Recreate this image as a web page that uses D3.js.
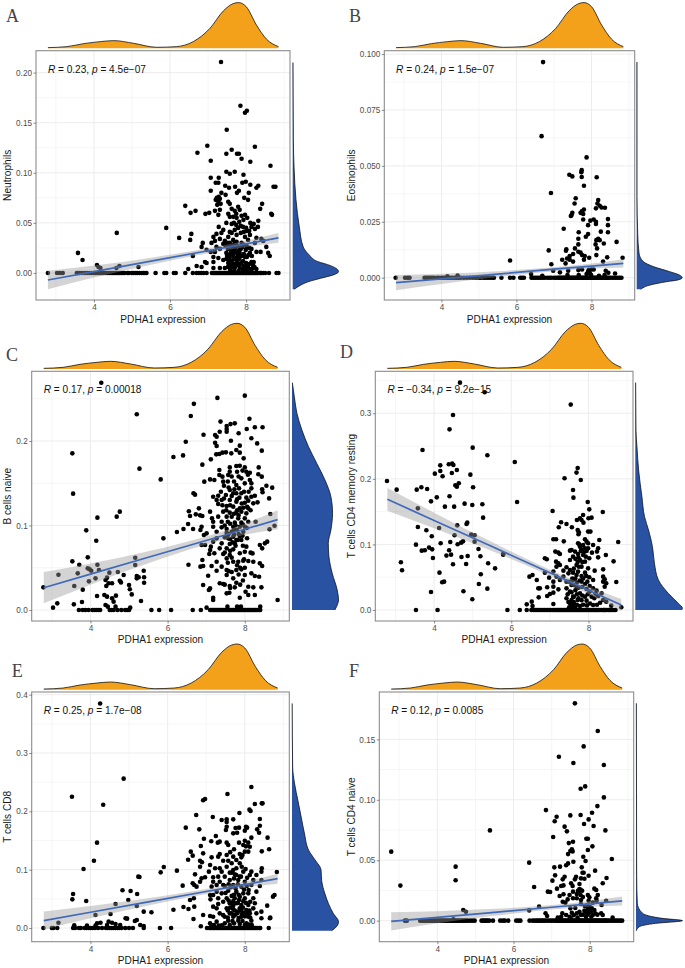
<!DOCTYPE html>
<html><head><meta charset="utf-8">
<script src="https://cdnjs.cloudflare.com/ajax/libs/d3/7.8.5/d3.min.js"></script>
<style>html,body{margin:0;padding:0;background:#fff}svg{display:block}text{font-family:"Liberation Sans",Arial,sans-serif}</style>
</head><body><svg id="c" width="685" height="968"></svg>
<script>
// shared expression values
const exprTicks=[4,6,8], exprMinor=[3,5,7,9];
const exprDensityX=[2.79,3.29,3.73,4.17,4.52,5.04,5.65,6.17,6.61,7.05,7.4,7.66,7.8,8,8.27,8.53,8.85];
const exprDensityV=[2,5,14,20,23,15,3,5,20,60,112,134,137,125,70,28,5];
const fitX=[2.79,4,5.5,7,8,8.85];
// zero-valued samples in the densely populated high-expression range
const highZero=[7.1,7.13,7.16,7.19,7.22,7.25,7.28,7.31,7.34,7.37,7.4,7.43,7.46,7.49,7.52,7.55,7.58,7.61,7.64,7.67,7.7,7.73,7.76,7.79,7.82,7.85,7.88,7.91,7.94,7.97,8,8.03,8.06,8.09,8.12,8.15,8.18,8.21,8.24,8.27,8.3,8.34,8.38,8.4];

// A Neutrophils
const neutroPts=[[7.34,.2106],[7.85,.167],[8.02,.162],[7.97,.16],[7.49,.143],[6.98,.127],[8.23,.126],[6.72,.12],[7.62,.123],[7.48,.119],[7.76,.119],[7.81,.119],[7.88,.114],[7.07,.112],[8.11,.111],[8.64,.107],[7.48,.101],[7.57,.099],[7.7,.101],[7.07,.095],[7.28,.095],[7.93,.098],[7.2,.09],[7.27,.09],[7.45,.087],[7.55,.085],[7.71,.086],[7.9,.09],[7.99,.091],[8.11,.088],[8.27,.085],[8.32,.087],[8.72,.086],[8.77,.086],[7.07,.082],[7.35,.08],[7.46,.078],[7.76,.08],[7.81,.082],[7.95,.075],[8.07,.08],[8.05,.073],[7.23,.075],[7.28,.076],[7.2,.073],[7.31,.074],[7.27,.071],[7.24,.068],[7.33,.069],[7.53,.071],[7.57,.069],[6.4,.067],[8.42,.069],[8.37,.064],[6.54,.06],[6.67,.062],[6.93,.059],[7.03,.06],[7.18,.062],[7.31,.063],[7.62,.064],[7.79,.066],[7.83,.063],[7.27,.058],[7.53,.059],[7.88,.057],[7.97,.058],[8.66,.059],[8.68,.058],[7.57,.056],[7.75,.055],[7.48,.05],[7.62,.049],[7.82,.051],[8.03,.055],[8.11,.05],[8.2,.049],[8.32,.052],[7.92,.046],[8,.045],[8.14,.046],[8.23,.044],[8.31,.046],[5.9,.045],[4.6,.04],[7.28,.046],[7.4,.043],[7.57,.041],[7.79,.045],[6.24,.035],[6.56,.039],[6.53,.033],[7.14,.036],[7.22,.039],[7.35,.04],[7.31,.034],[7.53,.036],[7.44,.032],[7.66,.033],[7.97,.036],[8.1,.038],[8.05,.033],[8.27,.035],[8.4,.034],[6.86,.03],[6.83,.026],[7.09,.03],[7.18,.032],[7.22,.026],[7.4,.029],[7.57,.03],[7.75,.031],[7.88,.03],[8.23,.03],[8.45,.032],[8.53,.026],[3.58,.02],[3.7,.013],[6.6,.017],[6.96,.023],[7.07,.021],[7.18,.021],[7.31,.024],[7.48,.02],[7.57,.016],[7.7,.021],[7.83,.02],[7.97,.016],[8.1,.02],[8.27,.021],[8.38,.021],[8.58,.02],[8.62,.017],[6.92,.011],[6.96,.01],[7.14,.011],[7.14,.016],[7.27,.015],[7.4,.013],[7.48,.014],[7.53,.01],[7.62,.012],[7.75,.013],[7.79,.008],[7.88,.01],[8,.01],[8.14,.011],[8.18,.008],[6.7,.007],[6.48,.004],[6.83,.006],[7.14,.005],[7.31,.005],[7.44,.005],[7.62,.006],[7.7,.005],[7.83,.005],[7.97,.004],[8.05,.006],[8.18,.005],[8.27,.004],[7.52,.024],[7.6,.022],[7.66,.018],[7.72,.026],[7.78,.017],[7.86,.024],[7.92,.012],[7.99,.023],[7.55,.012],[7.67,.014],[7.74,.01],[7.93,.007],[4.08,.008],[4.12,.006],[4.17,.005],[4.67,.007],[4.59,.005],[5.17,.006]];
const neutroCrowd=[[7.46,.027],[7.5,.03],[7.54,.026],[7.6,.028],[7.64,.025],[7.69,.029],[7.7,.024],[7.76,.027],[7.8,.022],[7.82,.026],[7.9,.026],[7.95,.028],[8.01,.027],[8.08,.025],[8.14,.024],[7.5,.017],[7.58,.019],[7.64,.021],[7.72,.015],[7.76,.02],[7.82,.014],[7.88,.017],[7.94,.019],[8.02,.016],[8.06,.018],[8.15,.017],[7.52,.006],[7.58,.008],[7.66,.009],[7.72,.007],[7.77,.012],[7.84,.009],[7.9,.004],[8.02,.007],[8.08,.009],[8.1,.004],[8.2,.011],[8.22,.006],[7.58,.003],[7.68,.002],[7.8,.002],[7.92,.002],[8.02,.002],[8.14,.002],[7.62,.04],[7.7,.043],[7.75,.038],[7.86,.04],[7.94,.041],[8.02,.042],[8.08,.042],[7.68,.05],[7.74,.048],[7.86,.047],[7.93,.053],[7.7,.062],[7.74,.059],[7.66,.056]];
const neutroZero=[2.79,3.03,3.1,3.18,3.55,3.58,3.62,3.68,3.75,3.82,3.88,3.94,4,4.04,4.08,4.12,4.16,4.2,4.25,4.3,4.35,4.4,4.44,4.48,4.52,4.56,4.6,4.64,4.68,4.72,4.76,4.8,4.88,4.92,5,5.04,5.1,5.14,5.2,5.26,5.3,5.34,5.38,5.62,5.85,5.9,6.1,6.15,6.4,6.6,6.7,6.76,6.82,6.88,6.96,8.45,8.5,8.6,8.8,8.85];
const neutroFit=[-.007,.0014,.0118,.0222,.0291,.035], neutroHalf=[.0093,.006,.0035,.0024,.0031,.0048];
const neutroDensV=[.21,.133,.106,.073,.046,.026,.018,.0115,.0073,.0037,.0013,-.0017,-.0053,-.009,-.012,-.0163];
const neutroDensW=[1,2,4,10,20,32,50,75,115,135,139,125,85,45,25,5];

// B Eosinophils
const eosinoPts=[[6.71,.0964],[6.67,.0633],[7.87,.0538],[8.14,.0449],[7.74,.0481],[7.73,.0472],[7.74,.045],[7.41,.046],[7.49,.0453],[7.8,.0411],[6.92,.0379],[7.58,.0355],[7.55,.0332],[8.18,.0347],[8.16,.0332],[8.12,.031],[8.22,.0322],[8.27,.0314],[8.36,.0313],[7.8,.0305],[7.75,.0298],[7.71,.029],[7.78,.0285],[7.49,.029],[7.47,.028],[7.45,.0276],[8.44,.0262],[8.44,.0235],[8.44,.0203],[8.25,.0206],[7.78,.026],[7.97,.0255],[8.06,.026],[8.12,.025],[8.12,.024],[7.91,.0235],[7.26,.0219],[7.66,.0203],[7.91,.0195],[7.85,.0183],[8.18,.0174],[8.13,.0168],[8.22,.0168],[7.65,.0174],[8.67,.016],[8.33,.0153],[8.11,.0149],[8.15,.0131],[7.65,.0149],[7.56,.0131],[7.33,.0127],[7.32,.0121],[6.86,.0122],[7.65,.0116],[7.71,.0112],[7.51,.0106],[7.75,.0101],[7.82,.0097],[8.13,.0101],[7.42,.0097],[7.35,.0086],[7.22,.008],[7.94,.0089],[7.8,.008],[8.42,.0091],[5.83,.0077],[8.83,.0089],[7.42,.008],[7.31,.0064],[6.93,.006],[8.31,.0072],[7.51,.0072],[6.98,.0031],[7.65,.0034],[7.75,.0037],[8,.0037],[8.06,.0037],[7.91,.0027],[8.38,.0031],[8.45,.0022],[7.16,.0024],[7.38,.0031],[8.63,.0019],[7.87,.0016],[7.96,.002],[6.69,.0009],[6.39,.0016],[4.43,.001],[4.16,.0006],[7.99,.0012],[7.93,.0035],[7.36,.0012],[7.66,.0012],[8.2,.0009],[8.35,.0012]];
const eosinoZero=[2.78,3.03,3.1,3.15,3.55,3.6,3.65,3.7,3.75,3.8,3.88,3.93,4,4.05,4.1,4.16,4.22,4.28,4.34,4.4,4.46,4.52,4.6,4.68,4.76,4.84,4.92,5,5.05,5.12,5.18,5.24,5.3,5.36,5.4,5.6,5.83,5.92,6.1,6.15,6.2,6.4,6.45,6.5,6.55,6.6,6.65,6.7,6.75,6.82,6.88,6.93,7,7.05,8.42,8.46,8.5,8.55,8.6,8.65,8.7,8.75,8.8];
const eosinoFit=[-.0022,-.0005,.0016,.0038,.0052,.0064], eosinoHalf=[.0034,.0023,.0013,.0009,.0011,.0018];
const eosinoDensV=[.0964,.0362,.0198,.011,.0072,.005,.0027,.0013,0,-.001,-.0018,-.0033,-.0052];
const eosinoDensW=[1,1,3,7,20,50,100,128,138,125,90,40,12];

// C B cells naive
const bcellPts=[[4.28,.269],[7.29,.251],[8,.2537],[6.68,.244],[5.2,.2316],[6.6,.2296],[7.37,.223],[8.12,.2264],[7.53,.2177],[7.63,.22],[7.74,.2209],[7.53,.2142],[7.53,.211],[8.05,.2142],[8.26,.2162],[8.46,.2162],[7.35,.211],[7.23,.2071],[7.27,.2051],[6.93,.2075],[7.84,.2091],[8.17,.2032],[6.47,.1992],[7.64,.2004],[8.32,.1972],[7.23,.198],[7.27,.1941],[7.87,.1945],[7.78,.1893],[8.44,.1886],[3.53,.1854],[7.26,.1842],[7.34,.1846],[7.42,.1862],[7.51,.1866],[7.65,.1854],[7.87,.1862],[6.15,.1811],[6.4,.183],[7.12,.1783],[7.97,.1795],[6.9,.172],[5.27,.1673],[7.34,.1657],[7.61,.1688],[7.78,.1704],[7.87,.1708],[8,.1688],[8.36,.1688],[7.61,.1637],[8.13,.1625],[8.35,.1606],[8.44,.1578],[7.8,.1637],[8.04,.1637],[7.34,.1598],[7.42,.1578],[7.57,.1598],[5.82,.1546],[7.1,.1546],[7.21,.1538],[6.95,.1519],[7.44,.1519],[7.91,.1558],[8.13,.1538],[8.17,.1499],[8.56,.1471],[8.71,.1448],[7.78,.1479],[8,.1499],[8.45,.1428],[8.46,.1393],[8.17,.144],[7.85,.144],[7.61,.142],[6.67,.1381],[6.71,.1365],[3.55,.1377],[7.18,.1341],[7.31,.1353],[7.51,.1361],[7.7,.1381],[7.78,.1381],[7.91,.1381],[8.26,.1353],[8.63,.1321],[8.17,.1341],[7.27,.1302],[7.4,.1302],[7.61,.1302],[7.78,.1282],[8.09,.1294],[8.33,.1274],[8.22,.1262],[7.31,.1254],[7.53,.1231],[7.7,.1223],[7.87,.1203],[7.96,.1211],[8.09,.1203],[6.81,.1203],[4.76,.1164],[4.68,.1105],[4.18,.1093],[6.55,.1168],[6.58,.1112],[6.73,.1132],[6.84,.112],[6.9,.1112],[7.1,.1164],[7.44,.1164],[7.61,.1152],[7.78,.1152],[7.91,.1164],[8.04,.1144],[8.66,.1136],[7.15,.1085],[7.31,.1105],[7.53,.1105],[7.66,.1105],[7.83,.1085],[8,.1085],[8.09,.1045],[8.28,.1045],[7.18,.1045],[7.4,.1045],[7.56,.1045],[7.74,.1034],[7.91,.1034],[6.53,.1018],[6.88,.0986],[6.66,.0959],[6.41,.0959],[6.24,.0923],[3.89,.0943],[6.85,.0947],[7.18,.0986],[7.4,.0978],[7.53,.0959],[7.7,.0986],[7.87,.0986],[8,.0986],[8.77,.0998],[8.64,.0955],[7.27,.0927],[7.53,.0915],[7.66,.0927],[7.8,.0947],[7.96,.0927],[7.01,.0907],[6.94,.0888],[5.89,.0848],[4.15,.082],[7.53,.0876],[7.7,.0868],[7.87,.0876],[7.27,.0848],[7.57,.0848],[7.78,.0828],[7.91,.0828],[7.18,.0809],[6.88,.0769],[6.97,.0769],[7.12,.075],[7.4,.0789],[7.61,.0781],[7.74,.0789],[8.58,.0809],[8.52,.0789],[8.39,.0769],[8.45,.073],[7.35,.073],[7.53,.073],[8.04,.075],[7.7,.0718],[7.1,.071],[8,.069],[7.87,.0671],[8.15,.0679],[7.08,.0663],[7.21,.0671],[7.44,.0663],[7.61,.0651],[5.16,.0619],[3.93,.0623],[3.53,.0576],[3.71,.0536],[4.18,.0536],[5.16,.0533],[6.54,.0536],[6.9,.0592],[6.92,.0521],[6.85,.0513],[7.14,.0521],[7.27,.0572],[7.53,.0611],[7.7,.0572],[7.83,.0572],[7.96,.0584],[8.09,.058],[8.22,.0572],[8.39,.0552],[8.45,.0521],[7.4,.0513],[7.27,.0465],[7.53,.0473],[7.78,.0473],[7.91,.0481],[3.93,.0493],[3.98,.0481],[4.02,.0465],[4.22,.0473],[3.67,.0434],[3.17,.0418],[4.49,.0442],[4.71,.045],[5.38,.0465],[7.05,.0406],[7.53,.0414],[7.7,.0375],[8.17,.0434],[8.26,.0402],[8.37,.0394],[8,.0414],[5.39,.0387],[5.2,.0402],[5.2,.0375],[5.25,.0387],[5.39,.0323],[4.86,.0414],[3.96,.0339],[4.13,.0375],[4.39,.0355],[4.76,.0347],[4.79,.0327],[4.43,.0383],[7.35,.0316],[6.92,.0296],[4.56,.0316],[4.47,.0316],[4.41,.0284],[5,.0296],[5.02,.0245],[5.07,.0185],[3.58,.0284],[3.8,.0241],[7.44,.0308],[7.61,.0284],[7.78,.0323],[8.09,.0276],[8.22,.0268],[8.43,.0268],[7.1,.0256],[7.07,.0237],[7.74,.0268],[7.53,.0197],[7.6,.0205],[8.02,.0217],[8.26,.0178],[7.18,.0146],[7.18,.0118],[7.87,.0146],[8.09,.0178],[4.17,.0166],[4.36,.0178],[4.43,.0158],[4.66,.017],[4.56,.0138],[4.6,.0099],[3.78,.0095],[5.31,.0107],[3.57,.0067],[3.14,.0079],[3.03,.0028],[2.78,.0268],[4.39,.0059],[4.45,.004],[4.65,.004],[5.03,.0028],[7.01,.0028],[8.85,.0118],[7.55,.004],[7.8,.004],[7.9,.004],[8.4,.004]];
const bcellCrowd=[[7.46,.147],[7.56,.152],[7.66,.158],[7.72,.152],[7.84,.158],[7.94,.165],[8.08,.16],[7.38,.14],[7.46,.132],[7.58,.145],[7.66,.135],[7.73,.143],[7.8,.131],[7.86,.133],[7.98,.14],[8.04,.133],[8.1,.14],[7.42,.124],[7.52,.118],[7.62,.124],[7.72,.114],[7.8,.118],[7.92,.126],[8,.127],[8.06,.122],[8.15,.118],[7.48,.1],[7.62,.102],[7.72,.095],[7.76,.1],[7.84,.112],[7.95,.101],[8.05,.097],[7.48,.086],[7.58,.09],[7.62,.084],[7.68,.08],[7.72,.089],[7.82,.083],[7.84,.09],[7.94,.088],[8.06,.085],[7.62,.07],[7.76,.076],[7.95,.076],[7.98,.06],[8.2,.067],[7.48,.068],[7.56,.056],[7.66,.062],[7.8,.053],[7.88,.05],[8,.05],[7.58,.046],[7.66,.045],[7.84,.042],[7.95,.035],[7.48,.03],[7.62,.026],[7.88,.03]];
const bcellZero=[3.7,3.8,3.87,3.95,4.05,4.1,4.15,4.2,4.25,4.5,4.55,4.6,4.7,4.8,4.9,4.95,5,5.58,5.78,6.09,6.65,6.86];
const bcellFit=[.0264,.0425,.0624,.0823,.0956,.1069], bcellHalf=[.0185,.0125,.0072,.0048,.0066,.0112];
const bcellDensV=[.269,.2525,.2327,.2130,.1933,.1736,.1538,.1341,.1144,.0947,.0789,.0631,.0434,.0237,.0118,.0039,0];
const bcellDensW=[1,7,15,30,50,75,100,118,123,118,110,112,122,137,141,135,130];

// D T cells CD4 memory resting
const cd4mPts=[[4.67,.3467],[5.31,.332],[7.54,.3132],[4.49,.2974],[4.4,.2755],[5,.2476],[3.7,.244],[5.38,.2359],[6.09,.2257],[4.16,.2206],[4.38,.2222],[4.47,.2232],[4.5,.2211],[4.59,.2135],[7.72,.2166],[4.16,.212],[7.69,.2095],[4.02,.2079],[4.46,.209],[4.22,.2039],[4.94,.2064],[7.38,.2008],[7.8,.1983],[2.78,.1967],[4.64,.1932],[4.55,.1901],[4.59,.1881],[5.01,.1871],[3.67,.1871],[3.55,.1835],[3.82,.1845],[3.03,.1835],[7.6,.183],[4.4,.1734],[4.07,.1718],[7.61,.1713],[3.92,.1657],[6.15,.1647],[7.98,.1647],[4.79,.1622],[4.99,.1601],[5.25,.1612],[4.28,.1576],[4.52,.1576],[3.58,.155],[8.02,.1535],[7.07,.151],[8.37,.1495],[7.86,.1449],[5.27,.1408],[7.78,.1398],[8,.1398],[8.08,.1408],[7.7,.1373],[7.82,.1373],[7.87,.1332],[7.29,.1337],[7.43,.1312],[4.6,.1291],[4.84,.1312],[4.86,.1332],[7.23,.1261],[7.57,.1261],[3.58,.1266],[4.13,.1251],[3.8,.1215],[7.72,.122],[7.75,.1185],[7.99,.1195],[8.05,.1195],[7.74,.1154],[3.94,.1124],[4.53,.1139],[4.96,.1149],[5.05,.1139],[7.09,.1078],[7.16,.1078],[7.36,.1047],[8.28,.1068],[8.77,.1037],[5.05,.1042],[4.42,.1037],[4.17,.1017],[3.53,.0996],[4.61,.1002],[4.7,.1027],[4.75,.1047],[7.91,.1078],[7.95,.1042],[7.73,.1017],[7.86,.0991],[7.99,.1017],[8.12,.0991],[7.52,.0905],[7.78,.0966],[7.82,.0925],[7.91,.094],[7.99,.094],[8.25,.094],[8.22,.089],[8.09,.0874],[3.87,.0951],[3.95,.0925],[3.68,.0905],[3.76,.091],[5.15,.093],[4.39,.091],[3.97,.0793],[4.32,.0829],[4.44,.0844],[4.71,.0808],[4.87,.0824],[5.2,.0819],[5.79,.0854],[5.79,.0844],[7.14,.089],[7.22,.0874],[7.26,.0854],[7.56,.0915],[7.65,.089],[7.73,.0854],[7.86,.0839],[8.02,.0788],[8.45,.0839],[8.25,.0803],[7.6,.0813],[7.93,.0813],[6.87,.0788],[6.92,.0773],[8.65,.0742],[3.14,.0727],[3.17,.0605],[4.49,.0697],[4.83,.0702],[5.4,.0712],[5.58,.0635],[4.14,.0569],[4.21,.0422],[4.26,.0432],[3.92,.0275],[4.76,.0285],[5.21,.0544],[5.16,.0397],[5.38,.0325],[4.99,.0163],[7.16,.0737],[7.22,.0712],[7.52,.0763],[7.78,.0763],[7.91,.0737],[7.17,.0661],[7.26,.0686],[7.43,.0651],[7.69,.0686],[7.82,.0661],[7.99,.0635],[8.16,.06],[8.38,.062],[7.35,.06],[7.52,.061],[7.6,.0569],[7.73,.0585],[7.91,.0569],[7.09,.0585],[6.87,.0569],[6.55,.0534],[6.47,.0508],[6.66,.0457],[6.98,.0493],[7.17,.0508],[7.35,.0508],[7.48,.0559],[7.69,.0534],[7.82,.0519],[7.97,.0432],[8.12,.0457],[8.38,.0508],[8.42,.0468],[8.72,.0427],[8.46,.0407],[8.38,.0432],[8.42,.0356],[7.09,.0432],[6.93,.0346],[6.74,.033],[6.7,.033],[7.22,.0315],[7.26,.0457],[7.43,.0432],[7.6,.0457],[7.82,.0432],[7.91,.0397],[7.43,.033],[7.56,.0381],[7.69,.0356],[8.03,.0366],[8.21,.0295],[7.09,.0356],[7.09,.0264],[7,.0244],[6.93,.0214],[6.71,.0193],[6.53,.0127],[7.52,.028],[7.78,.0254],[8.03,.028],[8.34,.0254],[7.6,.0203],[7.91,.0203],[8.08,.0203],[8.25,.0214],[8.38,.0153],[7.43,.0178],[7.72,.0153],[7.95,.0142],[8.46,.0127],[7.09,.0092],[6.4,.0086],[6.55,.0061],[7.52,.0102],[7.6,.0076],[7.56,.0051],[8.12,.0076],[8.59,.0066],[8.85,.0041]];
const cd4mCrowd=[[7.76,.1],[7.8,.09],[7.88,.088],[7.95,.09],[7.74,.08],[7.84,.073],[7.72,.073],[7.66,.078],[7.75,.066],[7.62,.063],[7.58,.048],[7.66,.048],[7.7,.042],[7.78,.045],[7.86,.048],[7.94,.052],[8.02,.05],[7.62,.038],[7.66,.03],[7.74,.034],[7.84,.035],[7.95,.032],[8.12,.033],[7.5,.043],[7.46,.024],[7.56,.027],[7.62,.02],[7.7,.024],[7.74,.018],[7.82,.015],[7.84,.022],[7.98,.024],[8.15,.018],[8.18,.025],[7.48,.012],[7.56,.015],[7.62,.012],[7.66,.007],[7.7,.008],[7.78,.006],[7.86,.008],[7.96,.007],[8.04,.01],[8.22,.008],[8.3,.011],[7.5,.004],[7.56,.012],[7.6,.003],[7.66,.003]];
const cd4mZero=[3.53,4.09,5.9,6.22,6.4,6.52,6.58,6.62,6.66,6.7,6.74,6.78,6.82,6.86,6.9,6.94,6.98,7.02,7.06,8.42,8.45,8.48,8.52,8.55,8.58,8.62,8.66,8.7];
const cd4mFit=[.1688,.1366,.0967,.0568,.0302,.0076], cd4mHalf=[.0173,.0118,.0068,.0045,.0058,.009];
const cd4mDensV=[.3467,.2745,.2491,.2135,.1729,.1423,.122,.0966,.0712,.0458,.0254,.0102,.0025,0];
const cd4mDensW=[1,2,5,10,20,28,40,52,58,70,100,130,143,140];

// E T cells CD8
const cd8Pts=[[4.25,.385],[4.86,.256],[8.17,.2417],[3.52,.2251],[7.55,.2297],[6.97,.2211],[6.92,.2189],[4.33,.2114],[8.26,.2126],[8.44,.2137],[8.46,.2137],[8.12,.2029],[8.15,.2006],[7.86,.1971],[6.74,.1937],[7.17,.1903],[8.39,.1869],[7.4,.1851],[7.53,.1863],[7.53,.1817],[7.7,.1863],[6.47,.172],[6.82,.1691],[7.53,.1737],[7.76,.1714],[7.85,.172],[8.03,.1737],[8.06,.172],[8.39,.1754],[8.32,.1691],[8.37,.1634],[7.51,.168],[7.7,.1623],[7.8,.1634],[8,.1669],[6.94,.1531],[7.25,.1577],[8.59,.1549],[8.17,.1549],[8,.1497],[4.17,.1463],[7.13,.1486],[7.3,.1463],[7.35,.148],[7.53,.1463],[7.57,.1423],[7.85,.1463],[8.09,.1463],[8.13,.1394],[6.86,.1406],[7.96,.1423],[8.63,.1349],[8.44,.1314],[6.6,.1309],[7.35,.1269],[6.92,.128],[6.65,.124],[6.53,.1171],[4.09,.1154],[6.84,.1154],[6.89,.1126],[7.14,.1211],[7.31,.1223],[7.53,.1251],[7.7,.1223],[7.87,.1269],[8,.1309],[8.09,.1309],[7.78,.1166],[7.91,.1211],[7.44,.1154],[7.57,.1154],[7.66,.1109],[7.87,.1109],[6.84,.1051],[7.1,.108],[7.23,.1023],[7.35,.1023],[7.53,.1051],[7.78,.1023],[8.17,.0966],[8.44,.1023],[3.82,.1011],[5.9,.1046],[5.82,.0954],[6.24,.0983],[7.07,.0966],[7.4,.0966],[7.61,.0949],[7.7,.0994],[7.96,.0966],[8.43,.0966],[8.83,.096],[6.71,.092],[6.88,.0851],[6.97,.0869],[7.18,.0869],[7.31,.088],[7.48,.088],[7.78,.0909],[7.87,.088],[8.13,.0909],[8.3,.0909],[5.24,.088],[5.27,.0874],[6.65,.0766],[6.84,.0794],[7.18,.0794],[7.35,.0794],[7.61,.0823],[7.83,.0823],[8,.0794],[8.22,.0823],[8.43,.0823],[6.39,.0726],[6.75,.0709],[6.69,.0737],[7.14,.0709],[7.27,.0737],[7.44,.0737],[7.7,.0737],[7.91,.0709],[8.17,.0737],[8.39,.072],[4.83,.0646],[5.04,.0634],[5.21,.0583],[3.55,.0583],[3.53,.0491],[3.89,.0463],[4.65,.0411],[4.13,.0223],[4.52,.024],[4.98,.048],[5.2,.0377],[5.38,.028],[5.58,.0269],[6.15,.0314],[6.41,.036],[6.54,.0326],[6.58,.048],[6.68,.0509],[6.69,.0366],[6.67,.0154],[6.92,.0223],[7.1,.0206],[6.86,.0029],[7.27,.0623],[7.1,.0566],[7.18,.0566],[7.4,.0594],[7.57,.064],[7.78,.0623],[7.96,.0594],[8.09,.0594],[8.3,.0623],[8.77,.0566],[8.73,.0537],[7.11,.0491],[7.31,.0509],[7.53,.0509],[7.74,.0509],[7.87,.0537],[8,.0509],[8.22,.0509],[7.18,.0366],[7.31,.0411],[7.44,.0451],[7.61,.0423],[7.78,.0423],[7.91,.0394],[8.09,.0394],[8.26,.0423],[8.58,.0383],[7.27,.0337],[7.53,.0337],[7.7,.032],[7.87,.0337],[8.04,.0309],[8.22,.0337],[8.43,.028],[7.35,.0251],[7.61,.0251],[7.8,.0251],[7.96,.0263],[8.13,.0251],[8.3,.0251],[7.18,.0194],[7.48,.0194],[7.7,.0194],[7.91,.0194],[8.09,.0194],[8.66,.0177],[8.65,.0166],[8.43,.0166],[7.57,.0126],[7.83,.0126],[8.17,.0126],[7.27,.0109],[7.1,.008],[7.87,.0069],[8.04,.008],[3.17,.0091],[4.95,.016],[4.91,.0166],[5.15,.012],[5.2,.0137],[3.58,.0046],[4.17,.008],[4.26,.0091],[4.47,.0109],[4.56,.0091],[4.65,.0069],[4.77,.0051],[5.29,.0051],[5.38,.0034],[3.91,.004],[4.13,.004],[4.43,.0051],[7.14,.0046],[7.4,.0046],[7.61,.0051],[8,.0051]];
const cd8Crowd=[[7.62,.13],[7.72,.135],[7.94,.125],[8.03,.14],[7.66,.095],[7.72,.085],[7.74,.092],[7.9,.088],[7.92,.105],[8.02,.101],[8.06,.086],[7.48,.072],[7.58,.075],[7.64,.07],[7.76,.068],[7.82,.075],[8.05,.072],[7.5,.06],[7.66,.055],[7.72,.057],[7.84,.057],[7.98,.066],[8.1,.065],[7.58,.047],[7.66,.042],[7.7,.046],[7.82,.043],[7.85,.048],[7.96,.046],[8.03,.043],[8.14,.045],[7.56,.03],[7.62,.035],[7.7,.038],[7.74,.03],[7.82,.028],[7.9,.031],[7.95,.035],[8.06,.025],[8.12,.03],[7.44,.022],[7.56,.018],[7.66,.025],[7.74,.022],[7.84,.017],[7.92,.024],[8,.02],[8.14,.018],[7.2,.005],[7.48,.008],[7.68,.012],[7.72,.008],[7.94,.012],[8.1,.006],[8.18,.005],[7.32,.004]];
const cd8Zero=[2.78,3,3.04,3.14,3.55,3.6,3.7,3.75,3.85,3.9,3.95,4,4.05,4.12,4.2,4.3,4.4,4.45,4.5,4.55,4.6,4.65,4.7,4.75,4.8,4.9,5,5.1,5.38,5.8,6.09,7.02,7.08,8.62];
const cd8Fit=[.0126,.027,.0448,.0626,.0745,.0846], cd8Half=[.0155,.0105,.0062,.0042,.0052,.0086];
const cd8DensV=[.385,.276,.2469,.2183,.1897,.1611,.1337,.1166,.1,.0811,.0583,.0251,.0109,.0023,-.0046];
const cd8DensW=[.5,2,8,18,28,38,50,70,88,90,100,125,141,135,120];

// F T cells CD4 naive
const cd4nPts=[[7.61,.1798],[8.21,.1569],[7.84,.1442],[7.19,.1356],[7.57,.1304],[8.37,.1288],[7.88,.1111],[7.76,.1092],[8.37,.102],[8.2,.0948],[6.85,.0915],[8.06,.0893],[7.49,.0871],[7.76,.0874],[7.13,.086],[7.97,.0838],[7.08,.0822],[7.85,.08],[8.1,.0783],[7.34,.0778],[7.4,.0739],[8.41,.0747],[5.38,.0747],[7.04,.0692],[7.91,.0678],[7.95,.0678],[7.56,.0653],[7.45,.0642],[8.07,.0615],[7.95,.0585],[7.53,.059],[7.49,.0576],[7.55,.0573],[7.43,.0551],[2.79,.0571],[7.83,.0529],[8.58,.051],[7.89,.0494],[7.57,.0488],[7.43,.0474],[7.38,.0458],[6.41,.048],[4.48,.0447],[7.07,.0441],[7.22,.0447],[7.79,.0441],[7.84,.0397],[8.14,.0414],[7.81,.0397],[7.09,.0375],[7.34,.0364],[7.64,.0364],[7.61,.0342],[7.77,.035],[7.86,.0347],[7.97,.0372],[8.44,.0353],[4.48,.0334],[7.02,.0331],[7.29,.0342],[8.34,.0309],[3.03,.029],[6.54,.0278],[7.31,.0292],[7.51,.0309],[7.55,.0287],[7.73,.0303],[7.25,.0287],[7.14,.0265],[8.12,.0265],[8.17,.0254],[6.9,.024],[6.96,.0237],[7.73,.0262],[7.8,.0248],[7.69,.0248],[7.56,.024],[7.21,.0204],[7.31,.0218],[7.47,.0212],[7.56,.0185],[7.66,.0185],[7.76,.0212],[7.95,.0212],[7.99,.0193],[8.21,.0212],[8.17,.0185],[7.42,.0176],[7.29,.0157],[7.36,.0149],[7.77,.0171],[7.97,.0165],[8.18,.0165],[8.43,.0165],[8.31,.013],[6.67,.0116],[8.08,.0149],[7.87,.0121],[7.77,.0138],[7.49,.0102],[6.41,.0085],[4.68,.0088],[4.75,.0074],[7.73,.0074],[7.86,.0083],[7.99,.0094],[8.12,.0088],[7.66,.0061],[7.95,.0061],[8.03,.0074],[7.28,.0061],[7.53,.0066],[6.84,.0061],[6.88,.0039],[7.25,.0033],[7.38,.0047],[7.47,.0033],[7.77,.0047],[7.9,.0033],[8.08,.0047],[8.3,.0061],[8.34,.0047],[7.16,.0025],[8.6,.0025],[4.42,.0011]];
const cd4nCrowd=[[7.72,.0245],[7.76,.0255],[7.66,.022],[7.82,.0195],[7.92,.0125],[7.95,.0095],[8,.0115],[8.05,.0105],[7.9,.007],[7.94,.005],[7.98,.0065],[8.04,.0035],[7.82,.005],[7.68,.0025],[7.58,.0045],[7.5,.002],[7.62,.0105],[8.14,.006],[8.2,.005]];
const cd4nZero=[3.15,3.2,3.55,3.6,3.64,3.68,3.72,3.76,3.8,3.84,3.88,3.92,3.96,4,4.04,4.08,4.12,4.16,4.2,4.24,4.28,4.32,4.36,4.4,4.44,4.48,4.52,4.56,4.6,4.64,4.68,4.72,4.76,4.8,4.86,4.92,4.98,5.16,5.2,5.24,5.28,5.32,5.36,5.46,5.65,5.72,5.77,5.86,6.07,6.13,6.18,6.42,6.5,6.55,6.6,6.64,6.68,6.72,6.76,6.8,6.84,6.9,6.95,7,7.05,8.42,8.46,8.5,8.55,8.6,8.65,8.7,8.75,8.8,8.85];
const cd4nFit=[-.0006,.0028,.0069,.0111,.0139,.0163], cd4nHalf=[.0075,.005,.0029,.0019,.0024,.0037];
const cd4nDensV=[.1798,.0364,.0143,.0061,.0019,0,-.0022,-.005,-.0083];
const cd4nDensW=[1,2,4,20,80,141,60,10,1];

// axis labels
const panels=[
 {tag:"A",yTitle:"Neutrophils",stat:["0.23","4.5e\u221207"],pts:neutroPts.concat(neutroCrowd),zero:neutroZero.concat(highZero),fit:neutroFit,half:neutroHalf,dv:neutroDensV,dw:neutroDensW,yMajor:[0,.05,.1,.15,.2],yMinor:[.025,.075,.125,.175],fmt:".2f",
  rect:[36,50.7,290,300],yDom:[-.027,.2219],top:48.3,right:292.7,tagPos:[6,22],titleX:7.5,xTitleY:319},
 {tag:"B",yTitle:"Eosinophils",stat:["0.24","1.5e\u221207"],pts:eosinoPts,zero:eosinoZero.concat(highZero),fit:eosinoFit,half:eosinoHalf,dv:eosinoDensV,dw:eosinoDensW,yMajor:[0,.025,.05,.075,.1],yMinor:[.0125,.0375,.0625,.0875],fmt:".3f",
  rect:[384.3,50.7,634.7,300],yDom:[-.00997,.1015],top:48.3,right:636.7,tagPos:[349,22],titleX:351,xTitleY:319},
 {tag:"C",yTitle:"B cells naive",stat:["0.17","0.00018"],pts:bcellPts.concat(bcellCrowd),zero:bcellZero.concat(highZero),fit:bcellFit,half:bcellHalf,dv:bcellDensV,dw:bcellDensW,yMajor:[0,.1,.2],yMinor:[.05,.15,.25],fmt:".1f",
  rect:[31.7,371.3,289.3,621],yDom:[-.013,.2825],top:369,right:292,tagPos:[6,361],titleX:7.5,xTitleY:639.7},
 {tag:"D",yTitle:"T cells CD4 memory resting",stat:["\u22120.34","9.2e\u221215"],pts:cd4mPts.concat(cd4mCrowd),zero:cd4mZero.concat(highZero),fit:cd4mFit,half:cd4mHalf,dv:cd4mDensV,dw:cd4mDensW,yMajor:[0,.1,.2,.3],yMinor:[.05,.15,.25,.35],fmt:".1f",
  rect:[375.3,371.3,633,621],yDom:[-.0168,.364],top:369,right:635.3,tagPos:[340,358],titleX:351,xTitleY:639.7},
 {tag:"E",yTitle:"T cells CD8",stat:["0.25","1.7e\u221208"],pts:cd8Pts.concat(cd8Crowd),zero:cd8Zero.concat(highZero),fit:cd8Fit,half:cd8Half,dv:cd8DensV,dw:cd8DensW,yMajor:[0,.1,.2,.3,.4],yMinor:[.05,.15,.25,.35],fmt:".1f",
  rect:[31.7,692,289.3,941.7],yDom:[-.0235,.4046],top:689.7,right:292,tagPos:[11.7,677],titleX:7.5,xTitleY:960},
 {tag:"F",yTitle:"T cells CD4 naive",stat:["0.12","0.0085"],pts:cd4nPts.concat(cd4nCrowd),zero:cd4nZero.concat(highZero),fit:cd4nFit,half:cd4nHalf,dv:cd4nDensV,dw:cd4nDensW,yMajor:[0,.05,.1,.15],yMinor:[.025,.075,.125,.175],fmt:".2f",
  rect:[379.3,692,633.7,941.7],yDom:[-.0174,.1892],top:689.7,right:636,tagPos:[349,677],titleX:351,xTitleY:960}
];

const xDomain=[2.477,9.153];
const svg=d3.select("#c");
const ORANGE="#F3A11B", BLUE="#2A52A2", GRID="#EDEDED", BORDER="#8C8C8C";

panels.forEach(p=>{
  const [x0,y0,x1,y1]=p.rect;
  const x=d3.scaleLinear().domain(xDomain).range([x0,x1]);
  const y=d3.scaleLinear().domain(p.yDom).range([y1,y0]);
  const g=svg.append("g");
  // grid
  const grid=g.append("g");
  exprMinor.forEach(v=>grid.append("line").attr("x1",x(v)).attr("x2",x(v)).attr("y1",y0).attr("y2",y1).attr("stroke",GRID).attr("stroke-width",.5));
  p.yMinor.filter(v=>y(v)>y0).forEach(v=>grid.append("line").attr("x1",x0).attr("x2",x1).attr("y1",y(v)).attr("y2",y(v)).attr("stroke",GRID).attr("stroke-width",.5));
  exprTicks.forEach(v=>grid.append("line").attr("x1",x(v)).attr("x2",x(v)).attr("y1",y0).attr("y2",y1).attr("stroke",GRID).attr("stroke-width",1));
  p.yMajor.forEach(v=>grid.append("line").attr("x1",x0).attr("x2",x1).attr("y1",y(v)).attr("y2",y(v)).attr("stroke",GRID).attr("stroke-width",1));
  // points
  const all=p.pts.concat(p.zero.map(v=>[v,0]));
  g.append("g").selectAll("circle").data(all).join("circle")
    .attr("cx",d=>x(d[0])).attr("cy",d=>y(d[1])).attr("r",2.3).attr("fill","#000");
  // ribbon and fit
  const band=d3.area().x((d,i)=>x(fitX[i])).y0((d,i)=>y(p.fit[i]-p.half[i])).y1((d,i)=>y(p.fit[i]+p.half[i])).curve(d3.curveMonotoneX);
  g.append("path").attr("d",band(p.fit)).attr("fill","#999").attr("fill-opacity",.42);
  const line=d3.line().x((d,i)=>x(fitX[i])).y(d=>y(d));
  g.append("path").attr("d",line(p.fit)).attr("fill","none").attr("stroke","#3F69B9").attr("stroke-width",1.7);
  // border
  g.append("rect").attr("x",x0).attr("y",y0).attr("width",x1-x0).attr("height",y1-y0).attr("fill","none").attr("stroke",BORDER).attr("stroke-width",1.1);
  // axes
  const xa=g.append("g").attr("transform",`translate(0,${y1})`).call(d3.axisBottom(x).tickValues(exprTicks).tickSize(2.5).tickFormat(d3.format("d")));
  const ya=g.append("g").attr("transform",`translate(${x0},0)`).call(d3.axisLeft(y).tickValues(p.yMajor).tickSize(2.5).tickFormat(d3.format(p.fmt)));
  [xa,ya].forEach(a=>{a.select(".domain").remove();a.selectAll("line").attr("stroke","#444").attr("stroke-width",.6);a.selectAll("text").attr("fill","#4D4D4D").style("font-size","8.2px").style("font-family",'"Liberation Sans",Arial,sans-serif');});
  xa.selectAll("text").attr("dy",".72em").attr("y",4);
  ya.selectAll("text").attr("x",-4);
  // titles
  g.append("text").attr("x",(x0+x1)/2).attr("y",p.xTitleY+3.5).attr("text-anchor","middle").style("font-size","10.1px").attr("fill","#1a1a1a").text("PDHA1 expression");
  g.append("text").attr("transform",`translate(${p.titleX+3.5},${(y0+y1)/2}) rotate(-90)`).attr("text-anchor","middle").style("font-size","10.1px").attr("fill","#1a1a1a").text(p.yTitle);
  // stat label
  const t=g.append("text").attr("x",x(2.79)).attr("y",y0+22).style("font-size","10.1px").attr("fill","#111");
  t.append("tspan").style("font-style","italic").text("R");
  t.append("tspan").text(` = ${p.stat[0]}, `);
  t.append("tspan").style("font-style","italic").text("p");
  t.append("tspan").text(` = ${p.stat[1]}`);
  // top marginal
  const dTop=d3.scaleLinear().domain([0,d3.max(exprDensityV)]).range([p.top,p.top-45.7]);
  g.append("path").attr("d",d3.area().x((d,i)=>x(exprDensityX[i])).y0(p.top).y1(d=>dTop(d)).curve(d3.curveMonotoneX)(exprDensityV)).attr("fill",ORANGE);
  g.append("path").attr("d",d3.line().x((d,i)=>x(exprDensityX[i])).y(d=>dTop(d)).curve(d3.curveMonotoneX)(exprDensityV)).attr("fill","none").attr("stroke","#111").attr("stroke-width",.8);
  // right marginal
  const dRight=d3.scaleLinear().domain([0,141]).range([p.right,p.right+46.5]);
  g.append("path").attr("d",d3.area().y((d,i)=>y(p.dv[i])).x0(p.right).x1(d=>dRight(d)).curve(d3.curveMonotoneY)(p.dw)).attr("fill",BLUE);
  g.append("path").attr("d",d3.line().y((d,i)=>y(p.dv[i])).x(d=>dRight(d)).curve(d3.curveMonotoneY)(p.dw)).attr("fill","none").attr("stroke","#111").attr("stroke-width",.8);
  // panel tag
  g.append("text").attr("x",p.tagPos[0]).attr("y",p.tagPos[1]).style("font-family",'"Liberation Serif",serif').style("font-size","18px").attr("fill","#444").text(p.tag);
});
</script></body></html>
